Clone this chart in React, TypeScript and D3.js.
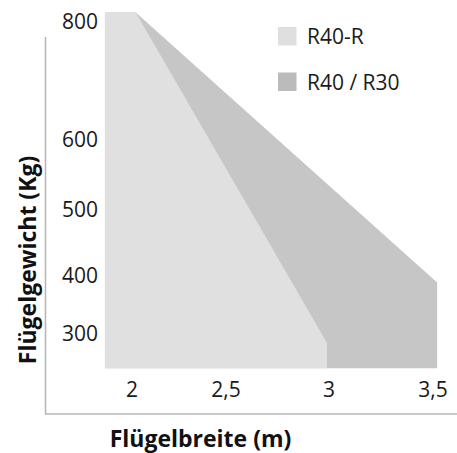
import React from "react";
import * as d3 from "d3";

// Tick labels
const xTicks = [2, 2.5, 3, 3.5];
const xTickLabels = ["2", "2,5", "3", "3,5"];
const yTicks = [300, 400, 500, 600, 800];
const yTickLabels = ["300", "400", "500", "600", "800"];

// Series (x in m, y in kg)
const seriesNames = ["R40-R", "R40 / R30"];
const r40rX = [1.856, 2.02, 2.99, 2.99, 1.856];
const r40rY = [815, 815, 285, 241, 241];
const r40r30X = [1.856, 2.02, 3.52, 3.52, 1.856];
const r40r30Y = [815, 815, 389, 241, 241];

const W = 457;
const H = 453;
const FONT = "'Open Sans', 'Noto Sans', sans-serif";
const LIGHT = "#e0e0e0";
const DARK = "#c6c6c6";
const LEG_LIGHT = "#dedfe1";
const LEG_DARK = "#babbbd";

export default function App() {
  // The original axis spacing is uneven, so piecewise linear scales are used.
  const x = d3.scaleLinear().domain(xTicks).range([132, 226, 329, 433]);
  const y = d3.scaleLinear().domain(yTicks).range([334, 276, 210, 140, 21.5]);

  const line = d3
    .line<[number, number]>()
    .x((d) => x(d[0]))
    .y((d) => y(d[1]));

  const darkPts = r40r30X.map((v, i) => [v, r40r30Y[i]] as [number, number]);
  const lightPts = r40rX.map((v, i) => [v, r40rY[i]] as [number, number]);

  return (
    <svg
      width={W}
      height={H}
      style={{ position: "absolute", left: 0, top: 0, background: "#fff" }}
      fontFamily={FONT}
    >
      <path d={line(darkPts) + "Z"} fill={DARK} />
      <path d={line(lightPts) + "Z"} fill={LIGHT} />

      {/* axes lines */}
      <line x1={45.5} x2={45.5} y1={37} y2={414} stroke="#b5b5b5" strokeWidth={1.5} />
      <line x1={45} x2={457} y1={414} y2={414} stroke="#b5b5b5" strokeWidth={1.5} />

      {yTicks.map((t, i) => (
        <text
          key={t}
          x={98}
          y={y(t)}
          dy="0.35em"
          textAnchor="end"
          fontSize={21}
          fill="#1a1a1a"
        >
          {yTickLabels[i]}
        </text>
      ))}
      {xTicks.map((t, i) => (
        <text key={t} x={x(t)} y={397} textAnchor="middle" fontSize={21} fill="#1a1a1a">
          {xTickLabels[i]}
        </text>
      ))}

      {/* legend */}
      {seriesNames.map((n, i) => (
        <g key={n} transform={`translate(278,${27 + i * 45.5})`}>
          <rect width={18.5} height={18.5} fill={i === 0 ? LEG_LIGHT : LEG_DARK} />
          <text x={29} y={17} fontSize={21} fill="#1a1a1a">
            {n}
          </text>
        </g>
      ))}

      {/* titles */}
      <text x={200.5} y={447} textAnchor="middle" fontSize={23} fontWeight="bold" fill="#111">
        Flügelbreite (m)
      </text>
      <text
        transform="translate(36,260) rotate(-90)"
        textAnchor="middle"
        fontSize={23}
        fontWeight="bold"
        fill="#111"
      >
        Flügelgewicht (Kg)
      </text>
    </svg>
  );
}
